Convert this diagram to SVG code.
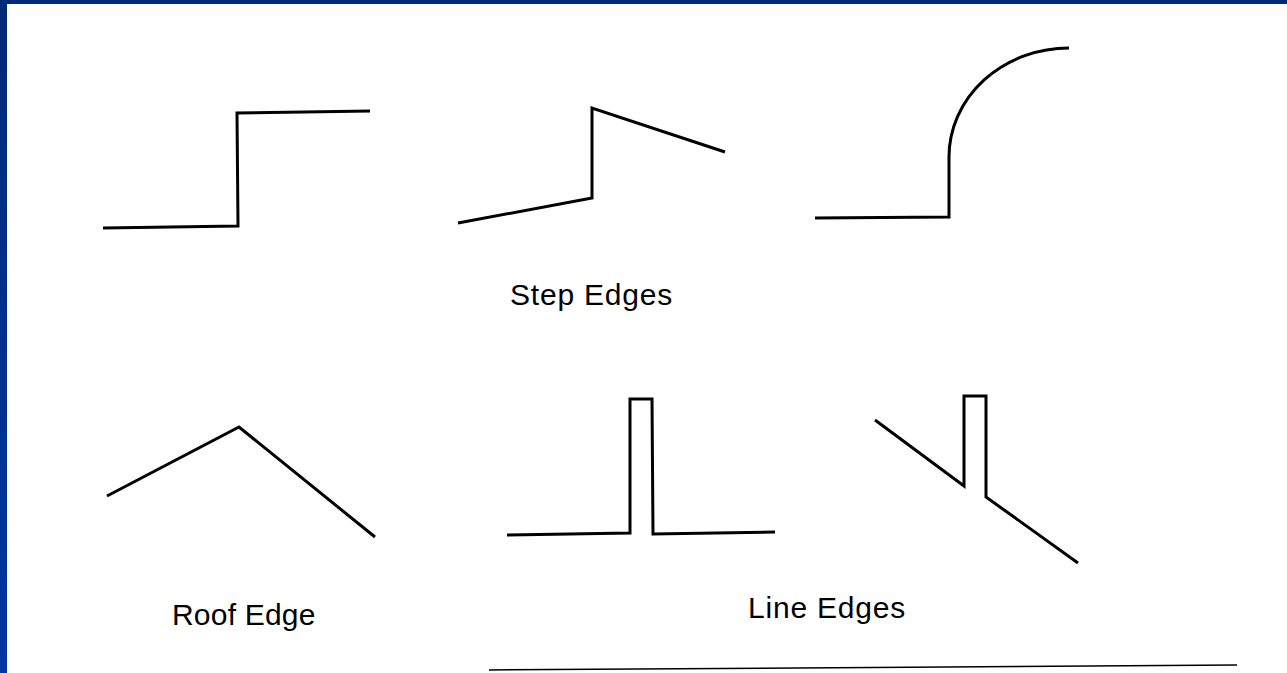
<svg xmlns="http://www.w3.org/2000/svg" width="1287" height="673" viewBox="0 0 1287 673">
<defs>
<linearGradient id="band" x1="0" y1="0" x2="0" y2="1">
<stop offset="0" stop-color="#002a78"/>
<stop offset="1" stop-color="#0036a2"/>
</linearGradient>
<style>
.edge{fill:none;stroke:#000;stroke-width:3;stroke-linejoin:miter;stroke-linecap:butt}
.lbl{font-family:"Liberation Sans",Arial,sans-serif;font-size:30px;fill:#000;letter-spacing:0.8px}
</style>
</defs>
<rect width="1287" height="673" fill="#fff"/>
<rect x="0" y="0" width="1287" height="4" fill="#00297a"/>
<rect x="0" y="0" width="7" height="673" fill="url(#band)"/>
<g id="connectors"></g>
<g id="step-edge-1"><path class="edge" d="M103 228 L238 226 L237 113 L370 111"/></g>
<g id="step-edge-2"><path class="edge" d="M458 223 L592 198 L592 108 L725 152"/></g>
<g id="step-edge-3"><path class="edge" d="M815 218 L949 217 L949 157 A120 109 0 0 1 1069 48"/></g>
<g id="step-label"><text class="lbl" x="510" y="305">Step Edges</text></g>
<g id="roof-edge"><path class="edge" d="M107 496 L239 427 L375 537"/></g>
<g id="roof-label"><text class="lbl" x="172" y="625" style="letter-spacing:0.2px">Roof Edge</text></g>
<g id="line-edge-1"><path class="edge" d="M507 535 L630 533 L630 399 L652 399 L653 534 L775 532"/></g>
<g id="line-edge-2"><path class="edge" d="M875 420 L964 486 L964 396 L986 396 L986 497 L1078 563"/></g>
<g id="line-label"><text class="lbl" x="748" y="618">Line Edges</text></g>
<g id="baseline"><path d="M489 670 L1237 665" fill="none" stroke="#000" stroke-width="1.5"/></g>
</svg>
